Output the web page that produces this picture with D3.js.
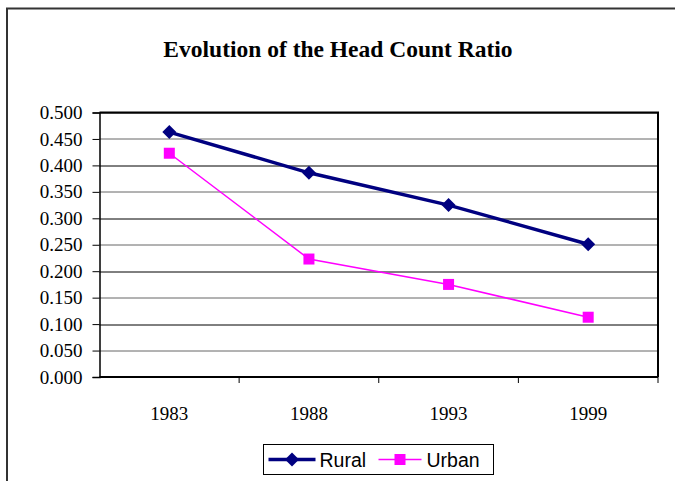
<!DOCTYPE html>
<html>
<head>
<meta charset="utf-8">
<script src="https://cdn.jsdelivr.net/npm/d3@7"></script>
<style>
  body { margin: 0; background: #fff; }
  svg { display: block; }
</style>
</head>
<body>
<div id="chart"></div>
<script>
// data
var years = ["1983", "1988", "1993", "1999"];
var rural = [0.463, 0.386, 0.325, 0.251];
var urban = [0.423, 0.223, 0.175, 0.113];
var yTicks = [0, 0.05, 0.1, 0.15, 0.2, 0.25, 0.3, 0.35, 0.4, 0.45, 0.5];

var W = 675, H = 483;
var margin = { top: 112.5, right: 17, bottom: 106, left: 99.5 },
  width = W - margin.left - margin.right,
  height = H - margin.top - margin.bottom;

var serif = "'Liberation Serif', 'Times New Roman', serif";

var svg = d3.select("#chart").append("svg")
  .attr("width", W)
  .attr("height", H);

// outer chart frame (only top and left edges are in view)
svg.append("path")
  .attr("d", "M7,481 L7,8.5 L675,8.5")
  .attr("fill", "none")
  .attr("stroke", "#333")
  .attr("stroke-width", 2);

svg.append("text")
  .attr("x", 338)
  .attr("y", 57)
  .attr("text-anchor", "middle")
  .style("font-family", serif)
  .style("font-weight", "bold")
  .style("font-size", "23.5px")
  .text("Evolution of the Head Count Ratio");

var g = svg.append("g")
  .attr("transform", "translate(" + margin.left + "," + margin.top + ")");

var x = d3.scaleBand()
  .domain(years)
  .range([0, width]);

var y = d3.scaleLinear()
  .domain([0, 0.5])
  .range([height, 0]);

// gridlines
g.selectAll(".grid")
  .data(yTicks.slice(1))
  .enter()
  .append("line")
  .attr("x1", 0)
  .attr("x2", width)
  .attr("y1", function (d) { return Math.round(y(d)) + 0.5; })
  .attr("y2", function (d) { return Math.round(y(d)) + 0.5; })
  .attr("stroke", function (d, i) { return i % 2 === 0 ? "#666" : "#000"; })
  .attr("stroke-width", 1);

// plot frame right + top
g.append("path")
  .attr("d", "M0,0 L" + width + ",0 L" + width + "," + height)
  .attr("fill", "none")
  .attr("stroke", "#000")
  .attr("stroke-width", 2);

// y axis
var yAxis = g.append("g")
  .call(d3.axisLeft(y).tickValues(yTicks).tickFormat(d3.format(".3f")).tickSize(7).tickPadding(10));
yAxis.select(".domain").attr("stroke-width", 1.5);
yAxis.selectAll("text")
  .style("font-family", serif)
  .style("font-size", "19px")
  .attr("fill", "#000");

// x axis: ticks between categories
var xAxis = g.append("g")
  .attr("transform", "translate(0," + height + ")");
xAxis.append("line")
  .attr("x1", 0).attr("x2", width)
  .attr("stroke", "#000").attr("stroke-width", 2);
xAxis.selectAll(".tick")
  .data(years.slice(1).concat(["end"]))
  .enter()
  .append("line")
  .attr("x1", function (d, i) { return x.step() * (i + 1); })
  .attr("x2", function (d, i) { return x.step() * (i + 1); })
  .attr("y1", 0).attr("y2", 6)
  .attr("stroke", "#000");
xAxis.selectAll(".lab")
  .data(years)
  .enter()
  .append("text")
  .attr("x", function (d) { return x(d) + x.bandwidth() / 2; })
  .attr("y", 43)
  .attr("text-anchor", "middle")
  .style("font-family", serif)
  .style("font-size", "19px")
  .text(function (d) { return d; });

var cx = function (d, i) { return x(years[i]) + x.bandwidth() / 2; };

var line = d3.line()
  .x(function (d, i) { return cx(d, i); })
  .y(function (d) { return y(d); });

// urban
g.append("path")
  .datum(urban)
  .attr("d", line)
  .attr("fill", "none")
  .attr("stroke", "#ff00ff")
  .attr("stroke-width", 1.5);
g.selectAll(".urb")
  .data(urban)
  .enter()
  .append("rect")
  .attr("x", function (d, i) { return cx(d, i) - 5.5; })
  .attr("y", function (d) { return y(d) - 5.5; })
  .attr("width", 11).attr("height", 11)
  .attr("fill", "#ff00ff");

// rural
g.append("path")
  .datum(rural)
  .attr("d", line)
  .attr("fill", "none")
  .attr("stroke", "#000080")
  .attr("stroke-width", 3.5);
var diamond = "M0,-7 L7,0 L0,7 L-7,0 Z";
g.selectAll(".rur")
  .data(rural)
  .enter()
  .append("path")
  .attr("d", diamond)
  .attr("transform", function (d, i) { return "translate(" + cx(d, i) + "," + y(d) + ")"; })
  .attr("fill", "#000080");

// legend
var leg = svg.append("g").attr("transform", "translate(263.5,444.5)");
leg.append("rect")
  .attr("width", 230).attr("height", 30)
  .attr("fill", "#fff").attr("stroke", "#000");
leg.append("line")
  .attr("x1", 5).attr("x2", 52).attr("y1", 15).attr("y2", 15)
  .attr("stroke", "#000080").attr("stroke-width", 3.5);
leg.append("path")
  .attr("d", diamond)
  .attr("transform", "translate(28.5,15)")
  .attr("fill", "#000080");
leg.append("text")
  .attr("x", 56).attr("y", 22)
  .style("font-family", "'Liberation Sans', Arial, sans-serif")
  .style("font-size", "19.5px")
  .text("Rural");
leg.append("line")
  .attr("x1", 115).attr("x2", 158).attr("y1", 15).attr("y2", 15)
  .attr("stroke", "#ff00ff").attr("stroke-width", 1.5);
leg.append("rect")
  .attr("x", 131).attr("y", 9.5).attr("width", 11).attr("height", 11)
  .attr("fill", "#ff00ff");
leg.append("text")
  .attr("x", 163).attr("y", 22)
  .style("font-family", "'Liberation Sans', Arial, sans-serif")
  .style("font-size", "19.5px")
  .text("Urban");
</script>
</body>
</html>
